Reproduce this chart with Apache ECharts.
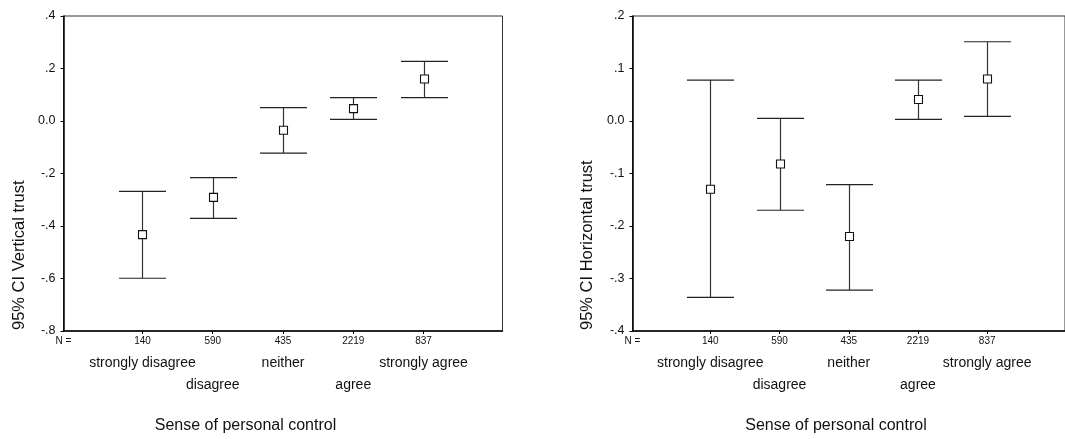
<!DOCTYPE html>
<html>
<head>
<meta charset="utf-8">
<script src="https://cdn.jsdelivr.net/npm/echarts@6/dist/echarts.min.js"></script>
<style>
html,body{margin:0;padding:0;background:#fff;}
#chart{width:1065px;height:439px;}
</style>
</head>
<body>
<div id="chart"></div>
<script>
// ---- data ----
const categories = ['strongly disagree', 'disagree', 'neither', 'agree', 'strongly agree'];
const nCounts = [140, 590, 435, 2219, 837];
const nLabel = 'N =';
const vertMean = [-0.433, -0.291, -0.035, 0.047, 0.160];
const vertLow  = [-0.599, -0.371, -0.122, 0.006, 0.089];
const vertHigh = [-0.268, -0.216, 0.051, 0.089, 0.227];
const horMean  = [-0.130, -0.082, -0.220, 0.041, 0.080];
const horLow   = [-0.336, -0.170, -0.322, 0.003, 0.009];
const horHigh  = [0.078, 0.005, -0.121, 0.078, 0.151];
const vertTitle = '95% CI Vertical trust';
const horTitle = '95% CI Horizontal trust';
const xTitle = 'Sense of personal control';

// ---- layout ----
const FONT = '"Liberation Sans", Arial, Helvetica, sans-serif';
const PAD = 1.124;
const X_MIN = -PAD, X_MAX = categories.length - 1 + PAD;
const catIdx = categories.map((_, i) => i);
const row1 = catIdx.filter(i => i % 2 === 0);
const row2 = catIdx.filter(i => i % 2 === 1);

function fmtY(v) {
  const r = Math.round(v * 10) / 10;
  if (Math.abs(r) < 1e-9) return '0.0';
  return r.toFixed(1).replace('0.', '.');
}

function makeGrid(left) {
  return { left: left, top: 16, width: 439, height: 315, show: true, borderColor: '#333', borderWidth: 1, containLabel: false };
}

function labelAxis(gridIndex, values, margin) {
  return {
    type: 'value', gridIndex, min: X_MIN, max: X_MAX, position: 'bottom',
    axisLine: { show: false, onZero: false }, axisTick: { show: false }, splitLine: { show: false },
    axisLabel: {
      show: true, margin: margin, fontFamily: FONT, fontSize: 14, color: '#111', hideOverlap: false,
      customValues: values,
      formatter: v => categories[Math.round(v)]
    }
  };
}

function xAxes(gridIndex) {
  return [
    {
      type: 'value', gridIndex, min: X_MIN, max: X_MAX, position: 'bottom',
      axisLine: { show: true, onZero: false, lineStyle: { color: '#000', width: 1.5 } },
      axisTick: { show: true, length: 3, customValues: catIdx, lineStyle: { color: '#000' } },
      splitLine: { show: false },
      axisLabel: {
        show: true, margin: 5, fontFamily: FONT, fontSize: 10, color: '#111', hideOverlap: false,
        customValues: [X_MIN].concat(catIdx),
        formatter: v => (Math.abs(v - X_MIN) < 1e-6 ? nLabel : String(nCounts[Math.round(v)]))
      }
    },
    labelAxis(gridIndex, row1, 25),
    labelAxis(gridIndex, row2, 47)
  ];
}

function yAxis(gridIndex, min, max, interval) {
  return {
    type: 'value', gridIndex, min, max, interval,
    axisLine: { show: true, onZero: false, lineStyle: { color: '#000', width: 1.5 } },
    axisTick: { show: true, length: 3, lineStyle: { color: '#000' } },
    splitLine: { show: false },
    axisLabel: { margin: 8, fontFamily: FONT, fontSize: 12.5, color: '#111', formatter: fmtY }
  };
}

function renderBar(params, api) {
  const x = api.value(0);
  const pLo = api.coord([x, api.value(1)]);
  const pHi = api.coord([x, api.value(2)]);
  const pM = api.coord([x, api.value(3)]);
  const cx = Math.round(pM[0]) + 0.5;
  const half = 23.5;
  const st = { stroke: '#222', lineWidth: 1.2 };
  return {
    type: 'group',
    children: [
      { type: 'line', shape: { x1: cx, y1: pHi[1], x2: cx, y2: pLo[1] }, style: { stroke: '#333', lineWidth: 1.2 } },
      { type: 'line', shape: { x1: cx - half, y1: pHi[1], x2: cx + half, y2: pHi[1] }, style: st },
      { type: 'line', shape: { x1: cx - half, y1: pLo[1], x2: cx + half, y2: pLo[1] }, style: st },
      { type: 'rect', shape: { x: cx - 4, y: pM[1] - 4, width: 8, height: 8 }, style: { fill: '#fff', stroke: '#111', lineWidth: 1.1 } }
    ]
  };
}

function barData(lo, hi, m) { return catIdx.map(i => [i, lo[i], hi[i], m[i]]); }

const chart = echarts.init(document.getElementById('chart'), null, { renderer: 'canvas' });
chart.setOption({
  backgroundColor: '#fff',
  animation: false,
  grid: [makeGrid(63.5), makeGrid(632.5)],
  xAxis: xAxes(0).concat(xAxes(1)),
  yAxis: [yAxis(0, -0.8, 0.4, 0.2), yAxis(1, -0.4, 0.2, 0.1)],
  series: [
    { type: 'custom', xAxisIndex: 0, yAxisIndex: 0, renderItem: renderBar, encode: { x: 0, y: [1, 2, 3] }, data: barData(vertLow, vertHigh, vertMean), clip: false },
    { type: 'custom', xAxisIndex: 3, yAxisIndex: 1, renderItem: renderBar, encode: { x: 0, y: [1, 2, 3] }, data: barData(horLow, horHigh, horMean), clip: false }
  ],
  graphic: [
    { type: 'text', x: 19, y: 330, rotation: Math.PI / 2, style: { text: vertTitle, font: '16.5px ' + FONT, fill: '#111', textAlign: 'left', textVerticalAlign: 'middle' } },
    { type: 'text', x: 587, y: 330, rotation: Math.PI / 2, style: { text: horTitle, font: '16.5px ' + FONT, fill: '#111', textAlign: 'left', textVerticalAlign: 'middle' } },
    { type: 'text', x: 245.5, y: 426, style: { text: xTitle, font: '16px ' + FONT, fill: '#111', textAlign: 'center', textVerticalAlign: 'middle' } },
    { type: 'text', x: 836, y: 426, style: { text: xTitle, font: '16px ' + FONT, fill: '#111', textAlign: 'center', textVerticalAlign: 'middle' } }
  ]
});
</script>
</body>
</html>
